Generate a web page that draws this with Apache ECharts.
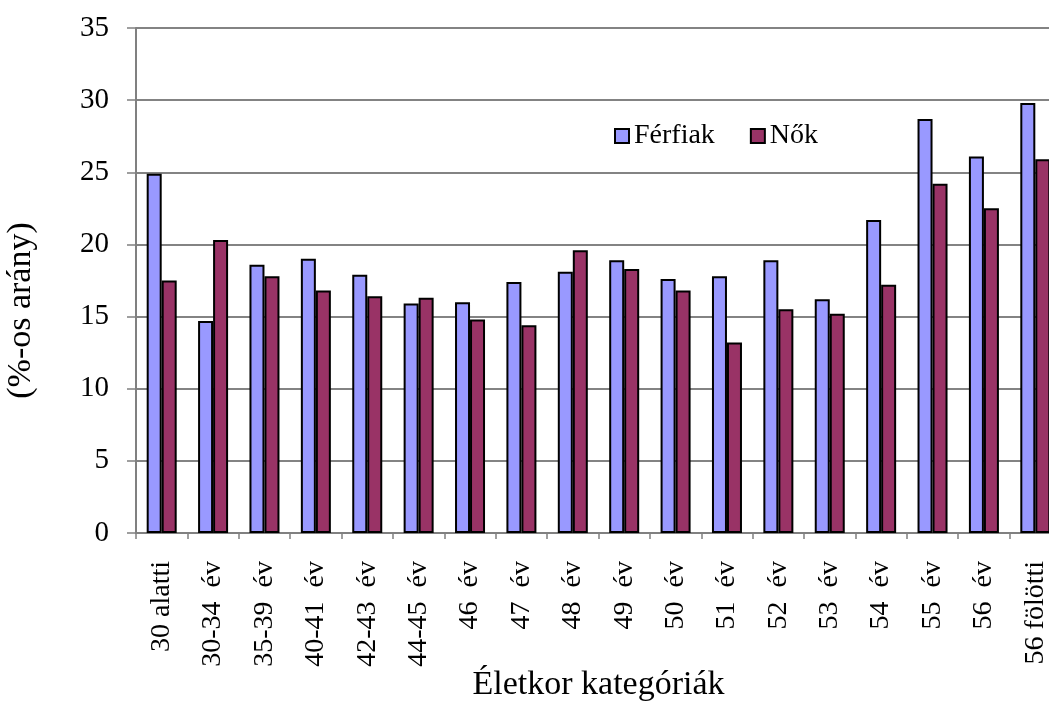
<!DOCTYPE html>
<html>
<head>
<meta charset="utf-8">
<script src="https://cdn.jsdelivr.net/npm/echarts@6/dist/echarts.min.js"></script>
<style>
html,body{margin:0;padding:0;background:#fff;}
#chart{width:1049px;height:704px;}
</style>
</head>
<body>
<div id="chart"></div>
<script>
const categories = ['30 alatti','30-34  év','35-39  év','40-41  év','42-43  év','44-45  év','46  év','47  év','48  év','49  év','50  év','51  év','52  év','53  év','54  év','55  év','56  év','56 fölötti'];
const ferfiak = [24.9,14.7,18.6,19.0,17.9,15.9,16.0,17.4,18.1,18.9,17.6,17.8,18.9,16.2,21.7,28.7,26.1,29.8];
const nok = [17.5,20.3,17.8,16.8,16.4,16.3,14.8,14.4,19.6,18.3,16.8,13.2,15.5,15.2,17.2,24.2,22.5,25.9];
const seriesNames = ['Férfiak','Nők'];
const yTicks = {min:0, max:35, interval:5};

const FONT = 'Liberation Serif';
const chart = echarts.init(document.getElementById('chart'), null, {renderer:'canvas'});
chart.setOption({
  backgroundColor:'#fff',
  animation:false,
  textStyle:{fontFamily:FONT, color:'#000'},
  grid:{left:136, right:-12, top:28, bottom:171, containLabel:false, outerBoundsMode:'none'},
  legend:{
    left:614, top:122, padding:0,
    itemWidth:14, itemHeight:14, itemGap:35,
    icon:'rect',
    textStyle:{fontFamily:FONT, fontSize:28, color:'#000'},
    data:seriesNames
  },
  xAxis:{
    type:'category',
    data:categories,
    name:'Életkor kategóriák',
    nameLocation:'middle',
    nameGap:135,
    nameMoveOverlap:false,
    nameTextStyle:{fontFamily:FONT, fontSize:34, color:'#000'},
    axisLine:{lineStyle:{color:'#808080', width:2}},
    axisTick:{show:true, length:6, lineStyle:{color:'#808080', width:1.5}},
    axisLabel:{interval:0, rotate:90, margin:28, fontFamily:FONT, fontSize:28, color:'#000'},
    splitLine:{show:false}
  },
  yAxis:{
    type:'value',
    min:yTicks.min, max:yTicks.max, interval:yTicks.interval,
    name:'(%-os arány)',
    nameLocation:'middle',
    nameGap:98,
    nameMoveOverlap:false,
    nameRotate:90,
    nameTextStyle:{fontFamily:FONT, fontSize:34, color:'#000', padding:[0,60,0,0]},
    axisLine:{show:true, lineStyle:{color:'#808080', width:2}},
    axisTick:{show:true, length:9, lineStyle:{color:'#808080', width:1.5}},
    axisLabel:{margin:27, fontFamily:FONT, fontSize:29, color:'#000'},
    splitLine:{show:true, lineStyle:{color:'#5a5a5a', width:1.5}}
  },
  series:[
    {name:seriesNames[0], type:'bar', data:ferfiak, barWidth:15, barGap:'0%',
     itemStyle:{color:'#9999FF', borderColor:'#000', borderWidth:2}},
    {name:seriesNames[1], type:'bar', data:nok, barWidth:15, barGap:'0%',
     itemStyle:{color:'#993366', borderColor:'#000', borderWidth:2}}
  ]
});
</script>
</body>
</html>
